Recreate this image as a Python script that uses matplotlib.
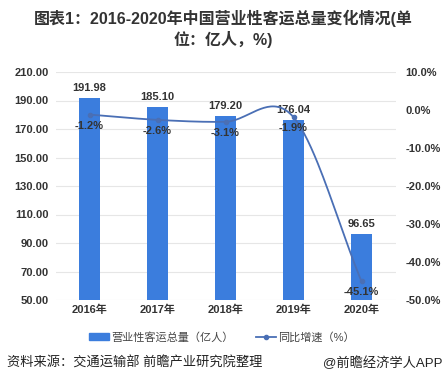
import numpy as np
import matplotlib.pyplot as plt
from matplotlib.lines import Line2D
from matplotlib.patches import Patch

# ---- data ----
years = ["2016年", "2017年", "2018年", "2019年", "2020年"]
volume = [191.98, 185.10, 179.20, 176.04, 96.65]      # 亿人
growth = [-1.2, -2.6, -3.1, -1.9, -45.1]              # %

BAR = "#3b7ddd"
LINE = "#4a6fb5"
TXT = "#333333"

plt.rcParams["font.family"] = ["Liberation Sans", "Noto Sans CJK SC", "DejaVu Sans"]
plt.rcParams["axes.unicode_minus"] = False


def smooth(y, n=40):
    """Catmull-Rom curve through the points, only for drawing (like Excel's smoothed line)."""
    y = np.asarray(y, float)
    x = np.arange(len(y))
    m = np.zeros_like(y)
    m[1:-1] = (y[2:] - y[:-2]) / 2
    m[0] = y[1] - y[0]
    m[-1] = y[-1] - y[-2]
    xs, ys = [], []
    for i in range(len(y) - 1):
        t = np.linspace(0, 1, n)
        h00 = 2 * t**3 - 3 * t**2 + 1
        h10 = t**3 - 2 * t**2 + t
        h01 = -2 * t**3 + 3 * t**2
        h11 = t**3 - t**2
        xs.append(x[i] + t)
        ys.append(h00 * y[i] + h10 * m[i] + h01 * y[i + 1] + h11 * m[i + 1])
    return np.concatenate(xs), np.concatenate(ys)


fig = plt.figure(figsize=(4.46, 3.88), dpi=100)
ax = fig.add_axes([55.5 / 446, 1 - 300 / 388, 340 / 446, 228 / 388])
x = np.arange(len(years))

ax.bar(x, volume, width=0.31, color=BAR, zorder=2)
for xi, v in zip(x, volume):
    ax.text(xi, v + 3.5, f"{v:.2f}", ha="center", va="bottom",
            fontsize=8, fontweight="bold", color=TXT, zorder=5)

ax.set_xlim(-0.5, 4.5)
ax.set_ylim(50, 210)
ax.set_yticks(np.arange(50, 211, 20))
ax.set_yticklabels([f"{v:.2f}" for v in np.arange(50, 211, 20)])
ax.set_xticks(x)
ax.set_xticklabels(years)
ax.grid(axis="y", color="#e6e6e6", linewidth=0.8, zorder=0)
ax.set_axisbelow(True)
for s in ax.spines.values():
    s.set_visible(False)
ax.tick_params(length=0, labelsize=8, colors=TXT)
ax.tick_params(axis="y", pad=5)
for lab in ax.get_xticklabels() + ax.get_yticklabels():
    lab.set_fontweight("bold")

ax2 = ax.twinx()
ax2.set_ylim(-50, 10)
ax2.set_yticks(np.arange(-50, 11, 10))
ax2.set_yticklabels([f"{v:.1f}%" for v in np.arange(-50, 11, 10)])
for s in ax2.spines.values():
    s.set_visible(False)
ax2.tick_params(length=0, labelsize=8, colors=TXT, pad=7)
for lab in ax2.get_yticklabels():
    lab.set_fontweight("bold")

sx, sy = smooth(growth)
ax2.plot(sx, sy, color=LINE, linewidth=1.3, zorder=3)
ax2.plot(x, growth, "o", color=LINE, markersize=3, zorder=4)
for xi, g in zip(x, growth):
    ax2.text(xi, g - 1.6, f"{g:.1f}%", ha="center", va="top",
             fontsize=8, fontweight="bold", color=TXT, zorder=5)

handles = [Patch(color=BAR, label="营业性客运总量（亿人）"),
           Line2D([], [], color=LINE, marker="o", markersize=3, linewidth=1.3,
                  label="同比增速（%）")]
fig.legend(handles=handles, loc="center", bbox_to_anchor=(222 / 446, 1 - 337 / 388),
           ncol=2, frameon=False, fontsize=8, handlelength=1.8, handleheight=0.6,
           columnspacing=2.0, handletextpad=0.2, labelcolor="#444444")

fig.text(0.5, 1 - 18 / 388, "图表1：2016-2020年中国营业性客运总量变化情况(单",
         ha="center", va="center", fontsize=11.5, fontweight="bold", color=TXT)
fig.text(0.5, 1 - 40 / 388, "位：亿人，%)",
         ha="center", va="center", fontsize=11.5, fontweight="bold", color=TXT)

fig.text(7 / 446, 1 - 363 / 388, "资料来源：交通运输部 前瞻产业研究院整理",
         ha="left", va="center", fontsize=9.5, color="#222222")
fig.text(442 / 446, 1 - 363 / 388, "@前瞻经济学人APP",
         ha="right", va="center", fontsize=9.5, color="#222222")

fig.savefig("out.png", dpi=100)
